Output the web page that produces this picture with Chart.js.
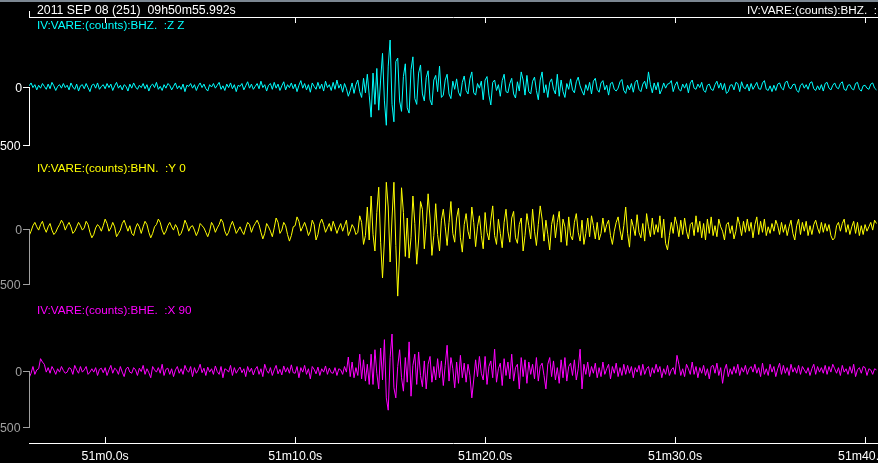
<!DOCTYPE html>
<html>
<head>
<meta charset="utf-8">
<script src="https://cdn.jsdelivr.net/npm/chart.js@4/dist/chart.umd.min.js"></script>
<style>
  html, body { margin: 0; padding: 0; background: #000; overflow: hidden; }
  #wrap { position: relative; width: 878px; height: 463px; }
</style>
</head>
<body>
<div id="wrap"><canvas id="seis" width="878" height="463"></canvas></div>
<script>
// header + channel names
let headerLeft = "2011 SEP 08 (251)  09h50m55.992s"
let headerRight = "IV:VARE:(counts):BHZ.  :"
let channelNames = ["IV:VARE:(counts):BHZ.  :Z Z", "IV:VARE:(counts):BHN.  :Y 0", "IV:VARE:(counts):BHE.  :X 90"]

// time axis, seconds after 51m0.0s
let viewStart = -4.008
let viewEnd = 40.68
let sampleStart = -4.0
let sampleStep = 0.1
let timeTicks = [0, 10, 20, 30, 40]
let timeLabels = ["51m0.0s", "51m10.0s", "51m20.0s", "51m30.0s", "51m40.0s"]
let countTicks = [0, -500]
let countLabels = ["0", "-500"]

// counts (one row = 2 s)
let bhz = [
  10,35,-5,20,-25,15,-10,30,5,-20,25,-15,40,10,-30,5,20,-10,30,-5,
  15,-25,35,0,-20,25,-35,10,20,-15,30,-5,-40,15,25,-10,35,-20,5,20,
  -15,30,-5,25,-30,10,40,-10,15,-25,20,5,-35,25,-10,35,0,-20,15,-5,
  30,-15,20,-35,10,25,-5,40,-20,5,-30,20,-10,30,15,-25,5,35,-15,10,
  -20,25,-40,15,5,30,-10,20,-30,10,35,-5,25,-15,-35,20,0,30,-10,15,
  40,-20,10,-30,25,-5,35,-15,20,-40,15,5,30,-25,10,45,-10,25,-20,5,
  30,-15,50,-5,20,-35,15,30,-20,40,-10,25,-30,10,45,-25,20,-5,35,-15,
  25,-40,15,55,-10,30,-25,20,-45,35,5,-20,40,-15,25,-35,50,-5,20,-30,
  40,-20,60,-10,25,-45,30,-15,-80,-30,35,-55,20,60,-40,-90,75,-50,110,-70,
  -260,120,-150,160,-200,60,290,-120,-330,180,405,-150,-300,220,250,-120,-210,90,200,-180,
  -225,150,260,-100,-150,120,190,-60,-120,80,140,-110,-155,60,100,-40,180,-90,-70,60,
  110,-60,-100,50,-20,70,-45,-80,40,95,-30,-60,70,130,-50,-70,30,-10,50,-110,
  60,90,-70,-155,40,60,-30,20,-80,55,110,-40,-50,30,75,-60,-95,45,-35,130,
  60,-70,100,-40,-60,50,85,-30,-110,60,130,-50,20,-90,40,70,-20,-60,110,-80,
  60,-40,-90,30,-20,70,-25,-50,45,85,10,-35,-70,20,-30,40,-60,50,75,-20,
  -45,35,55,-25,15,-70,30,40,-20,-35,-10,45,65,-30,-55,15,-25,30,-45,40,
  60,-20,-40,25,50,-15,130,20,-50,35,-25,40,-60,-20,35,-10,25,30,55,-40,
  15,45,-20,-35,25,-10,30,-50,35,60,-10,-20,25,-5,40,-30,-45,15,25,-20,
  -30,20,50,-10,35,-25,30,-55,-40,15,20,-25,40,30,-40,45,-5,-15,25,-35,
  30,-20,10,40,-15,-20,35,55,-20,-30,10,-40,15,-30,25,35,-10,-25,40,50,
  -5,-15,20,25,-30,-45,15,30,-10,20,-20,35,45,-15,-30,10,-25,20,-35,30,
  40,-10,-25,15,35,-5,-15,30,45,-20,-30,15,20,-15,-25,30,40,-20,-35,10,
  15,-10,-20,25,35,-10,-25
]
let bhn = [
  -60,-20,30,60,20,-10,40,70,10,-30,20,50,-10,-50,-30,10,40,80,50,-10,
  30,60,20,-40,-20,20,60,30,-10,10,70,40,-30,-80,-50,10,40,20,-20,30,
  90,50,-20,10,60,20,-70,-40,-10,50,80,30,-20,30,-40,-60,10,50,20,-40,
  20,70,40,-30,-80,-40,20,40,90,60,-10,-50,-20,30,60,20,-10,40,10,-60,
  -40,10,80,40,-20,20,30,-10,-60,-20,50,30,10,-30,-70,-20,60,30,-30,10,
  40,90,60,-20,-60,-30,30,70,20,-40,-10,20,-20,-50,10,60,40,-30,20,50,
  80,40,-30,-90,-40,50,20,-20,-70,10,100,60,-40,-10,60,30,-50,-110,-60,20,
  30,110,70,-20,20,60,10,-60,-20,80,40,-100,-50,50,90,40,-30,10,50,-20,
  70,20,-40,10,50,-20,30,80,-60,-20,40,10,-50,-30,120,60,-140,-60,200,-100,
  300,-50,-200,150,380,-120,-445,-100,425,200,-300,100,425,-150,-610,-200,375,150,-250,100,
  -265,-80,300,50,-320,-100,250,180,-180,40,320,100,-240,-60,230,-50,-200,80,180,20,
  -150,60,250,-40,-120,100,190,-80,-210,40,140,-20,-90,200,60,-160,20,120,-60,-180,
  150,-30,-100,80,210,-60,-140,90,-40,-170,60,180,-20,-120,100,160,-80,-130,40,100,
  -200,-60,140,30,-90,180,-20,-150,40,210,90,-110,80,-50,-190,40,130,-80,60,160,
  -120,90,20,-150,110,-60,-100,60,140,-30,-110,80,-140,-40,100,-70,120,30,-90,60,
  -100,-40,100,-30,40,80,-60,-140,-20,60,110,-10,-100,30,200,-40,-165,90,20,-60,
  130,-30,-80,50,-110,140,20,-70,100,-50,40,-30,120,-80,90,-130,-190,-60,60,-40,
  110,40,-70,80,-50,100,-20,-90,40,60,-60,120,-30,70,-80,50,-100,90,-40,110,
  -60,30,-70,90,20,-20,-100,40,60,-40,30,-90,-20,110,40,-60,70,-30,90,-20,
  60,-80,40,110,-50,70,-30,90,-60,20,-40,50,-20,80,30,-50,60,-30,40,-60,
  20,80,-40,-100,30,90,-50,60,-20,70,-60,30,-50,40,80,10,-40,60,-30,50,
  -20,40,-60,-100,-80,30,60,-20,50,90,-30,40,-50,20,70,-40,60,-60,30,-50,
  40,-20,20,60,-10,80,50
]
let bhe = [
  -60,-20,40,-30,10,20,110,80,60,-10,30,-20,40,10,-30,20,-10,40,5,-20,
  -10,30,20,-30,50,10,-20,40,-10,10,40,-30,-10,20,-10,30,-40,15,25,-15,
  30,-40,10,50,-20,25,10,-30,40,-10,-50,20,35,-10,-20,30,10,-40,25,-5,
  50,-30,20,-15,-60,40,10,-10,30,-20,60,-40,15,25,-30,20,-50,10,40,-20,
  20,-30,50,5,-10,40,-50,30,-20,10,60,-15,25,-40,35,-10,20,-30,45,-5,
  -30,40,-60,20,10,-10,50,-40,30,-20,10,35,-15,20,-50,40,-10,25,-35,15,
  40,-30,20,-50,60,5,-20,30,-40,10,50,-25,15,-35,45,-10,30,-20,55,-15,
  -20,40,-60,30,-10,50,-30,20,-70,40,15,-25,35,-40,20,-10,45,-30,25,-15,
  -20,30,-40,20,10,-30,40,-10,125,-50,80,-60,30,-40,150,-70,100,-90,60,-120,
  150,-120,190,-20,-160,205,-80,280,-240,-350,120,330,-150,-240,40,190,-60,-180,120,-100,
  260,-225,50,150,-120,170,-40,-140,90,-160,60,130,-100,40,-80,110,-60,90,-130,50,
  230,-90,120,20,-150,80,-110,140,-60,70,-100,60,-40,-240,-80,100,-50,130,-20,-80,
  130,-120,40,90,-60,195,-100,20,70,-130,110,-40,80,-70,150,-90,30,60,-160,120,
  -50,100,-110,80,-30,60,-70,120,-90,40,70,-40,-160,60,120,-50,90,-80,30,-110,
  100,-60,120,-90,40,70,-40,100,-80,20,195,-160,60,-30,80,-50,40,-20,70,-60,
  30,-50,80,-30,20,60,-70,40,-20,70,-50,30,-40,60,-30,50,-20,40,-60,30,
  -10,50,-40,60,-30,20,40,-50,30,-20,60,-10,40,-60,20,-30,50,-40,10,30,
  -30,140,60,-40,20,-50,60,20,-30,80,-30,40,-60,30,-20,50,-40,20,-70,40,
  50,-20,70,-40,30,-110,10,60,-50,20,-30,40,-20,60,-40,30,-10,50,-30,20,
  40,-10,60,-20,30,-50,70,-30,20,-40,60,-10,40,-50,20,70,-30,50,-20,30,
  -40,60,-10,30,-20,50,-30,40,10,-20,30,-40,20,60,-30,40,-10,30,-20,50,
  -30,40,-10,60,20,-20,30,-40,50,-10,20,-30,40,-20,60,-50,10,30,-20,40,
  30,-40,20,10,-30,20,10
]

// layout (pixels)
let plotTop = 17
let plotBottom = 443
let plotLeft = 29
let traces = [
  { id: "yZ", data: bhz, color: "#00ffff", axis: "#ffffff", zero: 87, minus500: 145, labelY: 29 },
  { id: "yN", data: bhn, color: "#ffff00", axis: "#a0a0a0", zero: 229, minus500: 284, labelY: 172 },
  { id: "yE", data: bhe, color: "#ff00ff", axis: "#a0a0a0", zero: 371, minus500: 427, labelY: 314 }
]

function xy(values){
  return values.map((v, i) => ({ x: sampleStart + i * sampleStep, y: v }))
}

let scales = {
  x: { type: "linear", min: viewStart, max: viewEnd, display: false }
}
traces.forEach(t => {
  let k = (t.minus500 - t.zero) / 500
  scales[t.id] = {
    type: "linear",
    display: false,
    max: (t.zero - plotTop) / k,
    min: -(plotBottom - t.zero) / k
  }
})

let font = "12.3px 'Liberation Sans', Arial, sans-serif"
let labelFont = "11.7px 'Liberation Sans', Arial, sans-serif"

let decor = {
  id: "decor",
  beforeDraw(chart){
    let c = chart.ctx
    c.save()
    c.fillStyle = "#000"
    c.fillRect(0, 0, chart.width, chart.height)
    c.restore()
  },
  afterDraw(chart){
    let c = chart.ctx
    let xs = chart.scales.x
    c.save()
    c.lineWidth = 1
    // top strip
    c.fillStyle = "#7c8792"
    c.fillRect(0, 0, chart.width, 2)

    // time axes top and bottom
    c.strokeStyle = "#ffffff"
    c.beginPath()
    c.moveTo(plotLeft, plotTop + 0.5); c.lineTo(chart.width, plotTop + 0.5)
    c.moveTo(plotLeft + 0.5, plotTop - 6); c.lineTo(plotLeft + 0.5, plotTop)
    c.moveTo(plotLeft, plotBottom + 0.5); c.lineTo(chart.width, plotBottom + 0.5)
    timeTicks.forEach(t => {
      let px = Math.round(xs.getPixelForValue(t)) + 0.5
      c.moveTo(px, plotTop); c.lineTo(px, plotTop + 6)
      c.moveTo(px, plotBottom); c.lineTo(px, plotBottom - 6)
    })
    c.stroke()

    c.font = font
    c.fillStyle = "#ffffff"
    c.textBaseline = "alphabetic"
    c.textAlign = "center"
    timeTicks.forEach((t, i) => {
      c.fillText(timeLabels[i], xs.getPixelForValue(t), 460)
    })
    c.textAlign = "left"
    c.fillText(headerLeft, 37, 14)
    c.font = labelFont
    c.fillText(headerRight, 747, 14)

    // per-channel count axes and names
    traces.forEach((t, n) => {
      let ys = chart.scales[t.id]
      let y0 = Math.round(ys.getPixelForValue(countTicks[0])) + 0.5
      let y1 = Math.round(ys.getPixelForValue(countTicks[1])) + 0.5
      c.strokeStyle = t.axis
      c.beginPath()
      c.moveTo(plotLeft + 0.5, y0); c.lineTo(plotLeft + 0.5, y1)
      c.moveTo(plotLeft - 6, y0); c.lineTo(plotLeft + 1, y0)
      c.moveTo(plotLeft - 6, y1); c.lineTo(plotLeft + 1, y1)
      c.stroke()
      c.font = font
      c.fillStyle = t.axis
      c.textAlign = "right"
      c.textBaseline = "middle"
      c.fillText(countLabels[0], 22, y0 + 1)
      c.fillText(countLabels[1], 20.5, y1 + 1)
      c.font = labelFont
      c.textAlign = "left"
      c.textBaseline = "alphabetic"
      c.fillStyle = t.color
      c.fillText(channelNames[n], 37, t.labelY)
    })
    c.restore()
  }
}

new Chart(document.getElementById("seis"), {
  type: "line",
  data: {
    datasets: traces.map((t, n) => ({
      label: channelNames[n],
      data: xy(t.data),
      yAxisID: t.id,
      borderColor: t.color,
      borderWidth: 1,
      pointRadius: 0,
      tension: 0,
      fill: false
    }))
  },
  options: {
    responsive: false,
    animation: false,
    events: [],
    layout: { padding: { left: plotLeft, right: 0, top: plotTop, bottom: 463 - plotBottom } },
    scales: scales,
    plugins: { legend: { display: false }, tooltip: { enabled: false } }
  },
  plugins: [decor]
})
</script>
</body>
</html>
